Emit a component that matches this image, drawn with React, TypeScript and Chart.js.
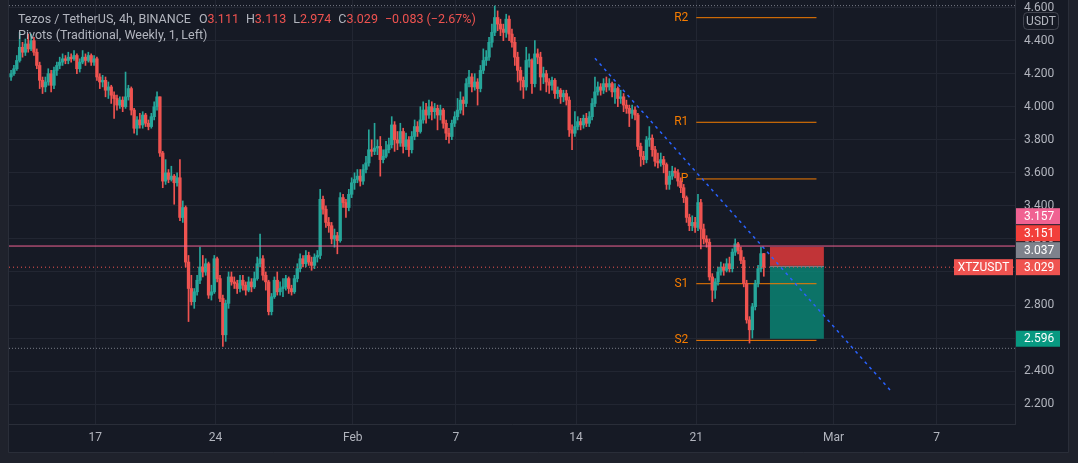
import React, { useEffect, useRef } from 'react';
import { Chart, registerables } from 'chart.js';

Chart.register(...registerables);

// ---- data (4h candles, Tezos / TetherUS) ----
const START_DAY = 12.1; // day-of-year style: Jan 12 = 12, Feb 1 = 32, Mar 1 = 60
const STEP_DAYS = 1 / 6;
const firstOpen = 4.18;

const closes = [
  4.20, 4.23, 4.28, 4.36, 4.33, 4.38, 4.35, 4.40, 4.33, 4.25,
  4.16, 4.12, 4.15, 4.20, 4.13, 4.22, 4.25, 4.27, 4.29, 4.28,
  4.30, 4.29, 4.31, 4.23, 4.27, 4.30, 4.28, 4.31, 4.27, 4.29,
  4.18, 4.15, 4.16, 4.10, 4.12, 4.07, 4.05, 4.01, 4.04, 4.00,
  4.06, 4.11, 3.98, 3.87, 3.92, 3.89, 3.95, 3.90, 3.88, 3.94,
  4.00, 4.06, 3.72, 3.55, 3.60, 3.56, 3.58, 3.54, 3.57, 3.33,
  3.39, 3.06, 2.90, 2.82, 2.88, 2.95, 3.03, 3.00, 3.05, 2.86,
  2.88, 3.08, 2.96, 2.84, 2.62, 2.81, 2.97, 2.94, 2.93, 2.90,
  2.95, 2.92, 2.89, 2.94, 2.91, 2.96, 3.05, 3.08, 2.98, 2.94,
  2.76, 2.85, 2.95, 2.88, 2.90, 2.91, 2.96, 2.90, 2.88, 2.96,
  3.02, 3.08, 3.05, 3.10, 3.06, 3.04, 3.09, 3.10, 3.44, 3.38,
  3.30, 3.28, 3.20, 3.22, 3.19, 3.45, 3.42, 3.39, 3.47, 3.54,
  3.56, 3.58, 3.55, 3.62, 3.66, 3.74, 3.73, 3.75, 3.76, 3.68,
  3.70, 3.74, 3.77, 3.89, 3.80, 3.78, 3.85, 3.76, 3.80, 3.74,
  3.82, 3.88, 3.85, 3.92, 3.98, 3.95, 4.00, 3.97, 3.99, 3.95,
  3.98, 3.90, 3.84, 3.82, 3.90, 3.94, 3.98, 4.04, 4.02, 4.14,
  4.18, 4.12, 4.15, 4.11, 4.22, 4.28, 4.30, 4.39, 4.45, 4.54,
  4.50, 4.47, 4.45, 4.53, 4.44, 4.39, 4.30, 4.22, 4.16, 4.12,
  4.28, 4.28, 4.14, 4.32, 4.30, 4.18, 4.20, 4.15, 4.13, 4.16,
  4.08, 4.10, 4.06, 4.08, 4.04, 3.86, 3.84, 3.88, 3.91, 3.89,
  3.93, 3.90, 3.94, 4.02, 4.09, 4.12, 4.10, 4.14, 4.12, 4.14,
  4.09, 4.11, 4.05, 4.06, 4.01, 3.99, 3.96, 3.98, 3.95, 3.76,
  3.70, 3.68, 3.80, 3.81, 3.74, 3.67, 3.66, 3.68, 3.65, 3.53,
  3.58, 3.61, 3.60, 3.55, 3.51, 3.45, 3.33, 3.28, 3.30, 3.27,
  3.42, 3.26, 3.20, 3.18, 2.97, 2.89, 2.94, 3.00, 3.03, 3.01,
  3.05, 3.02, 3.12, 3.17, 3.13, 3.07, 2.93, 2.71, 2.65, 2.79,
  2.93, 3.02, 3.111, 3.029,
];

const highs = [
  4.22, 4.25, 4.31, 4.45, 4.39, 4.41, 4.44, 4.44, 4.42, 4.35,
  4.27, 4.18, 4.18, 4.23, 4.22, 4.24, 4.27, 4.30, 4.32, 4.31,
  4.33, 4.32, 4.34, 4.32, 4.29, 4.34, 4.32, 4.33, 4.32, 4.31,
  4.30, 4.20, 4.19, 4.18, 4.15, 4.13, 4.09, 4.07, 4.06, 4.06,
  4.21, 4.13, 4.12, 3.99, 3.94, 3.96, 3.97, 3.96, 3.92, 3.96,
  4.03, 4.09, 4.06, 3.73, 3.68, 3.62, 3.64, 3.59, 3.60, 3.68,
  3.43, 3.40, 3.10, 2.98, 2.90, 2.98, 3.15, 3.10, 3.08, 3.06,
  2.92, 3.10, 3.09, 2.98, 2.86, 2.83, 3.00, 3.00, 2.97, 2.95,
  2.98, 2.98, 2.94, 2.97, 2.96, 3.00, 3.09, 3.23, 3.10, 3.00,
  2.95, 2.87, 2.97, 3.00, 2.94, 2.96, 2.98, 2.97, 2.92, 2.98,
  3.05, 3.11, 3.10, 3.13, 3.12, 3.09, 3.11, 3.13, 3.50, 3.46,
  3.40, 3.33, 3.30, 3.26, 3.24, 3.48, 3.47, 3.44, 3.50, 3.57,
  3.60, 3.62, 3.62, 3.65, 3.70, 3.86, 3.80, 3.90, 3.80, 3.82,
  3.74, 3.79, 3.81, 3.94, 3.91, 3.85, 3.90, 3.87, 3.84, 3.82,
  3.85, 3.92, 3.91, 4.00, 4.03, 4.02, 4.04, 4.03, 4.02, 4.01,
  4.01, 3.99, 3.92, 3.87, 3.92, 3.97, 4.05, 4.09, 4.06, 4.17,
  4.22, 4.20, 4.20, 4.17, 4.25, 4.35, 4.34, 4.42, 4.50, 4.61,
  4.58, 4.53, 4.50, 4.56, 4.55, 4.47, 4.42, 4.33, 4.24, 4.18,
  4.36, 4.32, 4.29, 4.40, 4.35, 4.33, 4.24, 4.22, 4.17, 4.18,
  4.17, 4.12, 4.11, 4.10, 4.10, 4.06, 3.89, 3.97, 3.94, 3.93,
  3.95, 3.96, 3.97, 4.05, 4.18, 4.15, 4.14, 4.17, 4.18, 4.17,
  4.15, 4.14, 4.12, 4.10, 4.08, 4.04, 4.01, 4.01, 4.00, 3.96,
  3.78, 3.73, 3.82, 3.88, 3.83, 3.76, 3.72, 3.72, 3.70, 3.66,
  3.61, 3.64, 3.63, 3.62, 3.57, 3.53, 3.46, 3.35, 3.34, 3.33,
  3.47, 3.44, 3.29, 3.22, 3.20, 2.99, 2.96, 3.03, 3.06, 3.05,
  3.08, 3.09, 3.14, 3.20, 3.18, 3.15, 3.09, 2.95, 2.73, 2.81,
  2.95, 3.04, 3.15, 3.113,
];

const lows = [
  4.16, 4.19, 4.22, 4.27, 4.30, 4.31, 4.33, 4.34, 4.31, 4.23,
  4.11, 4.08, 4.09, 4.13, 4.09, 4.11, 4.19, 4.23, 4.25, 4.26,
  4.26, 4.27, 4.28, 4.20, 4.21, 4.26, 4.25, 4.27, 4.25, 4.25,
  4.16, 4.11, 4.12, 4.06, 4.05, 4.02, 3.93, 3.98, 3.99, 3.97,
  3.99, 4.04, 3.95, 3.84, 3.83, 3.87, 3.87, 3.88, 3.86, 3.87,
  3.92, 3.98, 3.70, 3.51, 3.53, 3.54, 3.55, 3.41, 3.52, 3.31,
  3.30, 3.03, 2.70, 2.80, 2.78, 2.86, 2.93, 2.97, 2.98, 2.84,
  2.83, 2.87, 2.94, 2.82, 2.55, 2.58, 2.78, 2.92, 2.90, 2.87,
  2.88, 2.89, 2.86, 2.88, 2.88, 2.90, 2.95, 3.03, 2.95, 2.89,
  2.74, 2.74, 2.84, 2.86, 2.86, 2.85, 2.89, 2.87, 2.86, 2.87,
  2.94, 3.00, 3.03, 3.03, 3.04, 3.01, 3.02, 3.06, 3.08, 3.35,
  3.27, 3.24, 3.17, 3.15, 3.11, 3.18, 3.39, 3.33, 3.37, 3.45,
  3.50, 3.54, 3.52, 3.53, 3.60, 3.64, 3.70, 3.71, 3.71, 3.58,
  3.66, 3.69, 3.72, 3.75, 3.73, 3.74, 3.76, 3.72, 3.74, 3.70,
  3.72, 3.80, 3.82, 3.84, 3.90, 3.90, 3.93, 3.92, 3.93, 3.86,
  3.92, 3.87, 3.80, 3.78, 3.80, 3.88, 3.92, 3.96, 3.95, 4.00,
  4.12, 4.09, 4.10, 4.01, 4.09, 4.20, 4.25, 4.28, 4.36, 4.43,
  4.46, 4.43, 4.40, 4.42, 4.40, 4.36, 4.25, 4.15, 4.10, 4.05,
  4.10, 4.24, 4.08, 4.12, 4.26, 4.10, 4.14, 4.09, 4.08, 4.10,
  4.05, 4.05, 4.02, 4.03, 4.01, 3.82, 3.74, 3.82, 3.86, 3.86,
  3.87, 3.88, 3.88, 3.92, 4.00, 4.07, 4.07, 4.08, 4.09, 4.10,
  4.06, 4.02, 4.00, 4.02, 3.97, 3.96, 3.88, 3.93, 3.92, 3.74,
  3.64, 3.65, 3.66, 3.76, 3.70, 3.64, 3.63, 3.64, 3.60, 3.50,
  3.50, 3.56, 3.57, 3.52, 3.48, 3.42, 3.30, 3.25, 3.25, 3.24,
  3.25, 3.14, 3.17, 3.15, 2.95, 2.82, 2.84, 2.92, 2.98, 2.98,
  3.00, 3.00, 3.00, 3.10, 3.11, 3.05, 2.91, 2.69, 2.57, 2.60,
  2.77, 2.91, 3.00, 2.974,
];

const xTickDays = [17, 24, 32, 38, 45, 52, 60, 66];
const xTickLabels = ['17', '24', 'Feb', '7', '14', '21', 'Mar', '7'];
const priceTicks = [2.2, 2.4, 2.6, 2.8, 3.0, 3.2, 3.4, 3.6, 3.8, 4.0, 4.2, 4.4, 4.6];

const pivotNames = ['R2', 'R1', 'P', 'S1', 'S2'];
const pivotValues = [4.539, 3.906, 3.563, 2.929, 2.586];
const pivotSpan = [52, 59];

const trendStart = [46.1, 4.293];
const trendEnd = [63.28, 2.286];

const alertLevel = 3.157;
const lastPrice = 3.029;
const rangeHigh = 4.612;
const rangeLow = 2.538;

const positionSpan = [56.29, 59.43];
const positionStop = 3.151;
const positionEntry = 3.037;
const positionTarget = 2.596;

const axisLabelValues = [3.157, 3.151, 3.037, 3.029, 2.596];
const axisLabelColors = ['#f06292', '#f23f3a', '#7e828c', '#ef5350', '#089981'];

const X_MIN = 11.98;
const X_MAX = 70.56;
const Y_MIN = 2.08;
const Y_MAX = 4.646;

const UP = '#26a69a';
const DOWN = '#ef5350';
const FRAME = '#1f222c';
const PANEL = '#161a25';
const GRID = '#222632';
const BORDER = '#2a2e39';
const TEXT = '#b2b5be';
const PIVOT = '#f57c00';
const FONT = 'Roboto, "Noto Sans", sans-serif';

const overlayPlugin = {
  id: 'tvOverlay',
  beforeDraw(chart: any) {
    const { ctx, width, height } = chart;
    const xs = chart.scales.x;
    const ys = chart.scales.y;
    ctx.save();
    ctx.fillStyle = FRAME;
    ctx.fillRect(0, 0, width, height);
    ctx.fillStyle = PANEL;
    ctx.fillRect(xs.left, 0, ys.right - xs.left, xs.bottom);
    ctx.restore();
  },
  beforeDatasetsDraw(chart: any) {
    const { ctx } = chart;
    const xs = chart.scales.x;
    const ys = chart.scales.y;
    ctx.save();
    // position (short) tool boxes
    const x0 = xs.getPixelForValue(positionSpan[0]);
    const x1 = xs.getPixelForValue(positionSpan[1]);
    const yStop = ys.getPixelForValue(positionStop);
    const yEntry = ys.getPixelForValue(positionEntry);
    const yTarget = ys.getPixelForValue(positionTarget);
    ctx.fillStyle = 'rgba(242, 60, 60, 0.78)';
    ctx.fillRect(x0, yStop, x1 - x0, yEntry - yStop);
    ctx.fillStyle = 'rgba(8, 150, 129, 0.72)';
    ctx.fillRect(x0, yEntry, x1 - x0, yTarget - yEntry);
    ctx.strokeStyle = '#787b86';
    ctx.lineWidth = 1;
    ctx.beginPath();
    ctx.moveTo(x0, Math.round(yEntry) + 0.5);
    ctx.lineTo(x1, Math.round(yEntry) + 0.5);
    ctx.stroke();
    // pivot labels
    ctx.font = `12px ${FONT}`;
    ctx.fillStyle = PIVOT;
    ctx.textAlign = 'right';
    ctx.textBaseline = 'middle';
    const px = xs.getPixelForValue(pivotSpan[0]) - 8;
    pivotNames.forEach((n, i) => {
      ctx.fillText(n, px, ys.getPixelForValue(pivotValues[i]));
    });
    ctx.restore();
  },
  afterDraw(chart: any) {
    const { ctx } = chart;
    const xs = chart.scales.x;
    const ys = chart.scales.y;
    ctx.save();
    // price-axis labels stacked upward to avoid overlap
    const order = axisLabelValues.map((v, i) => i).sort((a, b) => axisLabelValues[a] - axisLabelValues[b]);
    const H = 17;
    let prev = Infinity;
    const centers: number[] = [];
    order.forEach((idx) => {
      let c = ys.getPixelForValue(axisLabelValues[idx]);
      if (c > prev - H) c = prev - H;
      centers[idx] = c;
      prev = c;
    });
    ctx.font = `12px ${FONT}`;
    ctx.textBaseline = 'middle';
    axisLabelValues.forEach((v, i) => {
      const c = centers[i];
      ctx.fillStyle = axisLabelColors[i];
      ctx.fillRect(ys.left + 1, c - 8, 44, 16);
      ctx.fillStyle = '#ffffff';
      ctx.textAlign = 'left';
      ctx.fillText(v.toFixed(3), ys.left + 9, c + 0.5);
    });
    // symbol label next to last price
    const cLast = centers[axisLabelValues.indexOf(lastPrice)];
    ctx.fillStyle = '#ef5350';
    ctx.fillRect(xs.right - 61, cLast - 8, 59, 16);
    ctx.fillStyle = '#ffffff';
    ctx.textAlign = 'center';
    ctx.fillText('XTZUSDT', xs.right - 31.5, cLast + 0.5);

    // currency box
    ctx.strokeStyle = '#434651';
    ctx.lineWidth = 1;
    ctx.beginPath();
    (ctx as any).roundRect(ys.left + 8.5, 12.5, 35, 17, 4);
    ctx.fillStyle = PANEL;
    ctx.fill();
    ctx.stroke();
    ctx.fillStyle = TEXT;
    ctx.textAlign = 'center';
    ctx.fillText('USDT', ys.left + 26, 21.5);

    // frame borders
    ctx.strokeStyle = BORDER;
    ctx.beginPath();
    ctx.moveTo(ys.right + 0.5, 0);
    ctx.lineTo(ys.right + 0.5, xs.bottom + 0.5);
    ctx.lineTo(xs.left - 0.5, xs.bottom + 0.5);
    ctx.lineTo(xs.left - 0.5, 0);
    ctx.stroke();

    // legend
    ctx.font = `12.5px ${FONT}`;
    ctx.textAlign = 'left';
    ctx.textBaseline = 'middle';
    const parts: [string, string, number][] = [
      ['Tezos / TetherUS, 4h, BINANCE', TEXT, 8],
      ['O', TEXT, 0], ['3.111', DOWN, 7],
      ['H', TEXT, 0], ['3.113', DOWN, 7],
      ['L', TEXT, 0], ['2.974', DOWN, 7],
      ['C', TEXT, 0], ['3.029', DOWN, 7],
      ['\u22120.083 (\u22122.67%)', DOWN, 0],
    ];
    let lx = 18;
    parts.forEach(([t, col, gap]) => {
      ctx.fillStyle = col;
      ctx.fillText(t, lx, 20);
      lx += ctx.measureText(t).width + gap;
    });
    ctx.fillStyle = TEXT;
    ctx.fillText('Pivots (Traditional, Weekly, 1, Left)', 18, 36);
    ctx.restore();
  },
};

export default function App() {
  const ref = useRef<HTMLCanvasElement>(null);

  useEffect(() => {
    document.body.style.margin = '0';
    const canvas = ref.current;
    if (!canvas) return;

    const candles = closes.map((c, i) => {
      const o = i === 0 ? firstOpen : closes[i - 1];
      return { t: START_DAY + i * STEP_DAYS, o, h: highs[i], l: lows[i], c };
    });
    const colors = candles.map((k) => (k.c >= k.o ? UP : DOWN));

    const hLine = (y: number, color: string, dash: number[], order: number, label: string) => ({
      type: 'line' as const,
      label,
      data: [{ x: X_MIN, y }, { x: X_MAX, y }],
      borderColor: color,
      borderWidth: 1,
      borderDash: dash,
      pointRadius: 0,
      order,
    });

    const pivotSets = pivotValues.map((v, i) => ({
      type: 'line' as const,
      label: pivotNames[i],
      data: [{ x: pivotSpan[0], y: v }, { x: pivotSpan[1], y: v }],
      borderColor: PIVOT,
      borderWidth: 1,
      pointRadius: 0,
      order: 2,
    }));

    const chart = new Chart(canvas, {
      type: 'bar',
      data: {
        datasets: [
          hLine(alertLevel, '#f06292', [], -3, 'alert'),
          {
            type: 'line',
            label: 'trend',
            data: [{ x: trendStart[0], y: trendStart[1] }, { x: trendEnd[0], y: trendEnd[1] }],
            borderColor: '#2962ff',
            borderWidth: 1.5,
            borderDash: [3, 4],
            pointRadius: 0,
            order: -2,
          },
          hLine(lastPrice, '#ef5350', [1, 3], -1, 'last'),
          {
            type: 'bar',
            label: 'bodies',
            data: candles.map((k) => ({ x: k.t, y: [k.o, k.c] })),
            backgroundColor: colors,
            borderWidth: 0,
            barThickness: 2.7,
            minBarLength: 1,
            grouped: false,
            order: 0,
          },
          {
            type: 'bar',
            label: 'wicks',
            data: candles.map((k) => ({ x: k.t, y: [k.l, k.h] })),
            backgroundColor: colors,
            borderWidth: 0,
            barThickness: 1,
            grouped: false,
            order: 1,
          },
          ...pivotSets,
          hLine(rangeHigh, '#787b86', [1, 2], 3, 'high'),
          hLine(rangeLow, '#787b86', [1, 2], 3, 'low'),
        ] as any,
      },
      options: {
        responsive: false,
        devicePixelRatio: 1,
        animation: false,
        events: [],
        layout: { padding: { left: 9, right: 10, top: 0, bottom: 11 } },
        plugins: { legend: { display: false }, tooltip: { enabled: false } },
        scales: {
          x: {
            type: 'linear',
            min: X_MIN,
            max: X_MAX,
            offset: false,
            afterBuildTicks: (s: any) => {
              s.ticks = xTickDays.map((v) => ({ value: v }));
            },
            afterFit: (s: any) => {
              s.height = 28;
              s.paddingLeft = 0;
              s.paddingRight = 0;
            },
            ticks: {
              autoSkip: false,
              maxRotation: 0,
              padding: 7,
              color: TEXT,
              font: { family: FONT, size: 12 },
              callback: (v: any) => {
                const i = xTickDays.indexOf(Number(v));
                return i >= 0 ? xTickLabels[i] : '';
              },
            },
            grid: { color: GRID, drawTicks: false, offset: false },
            border: { color: BORDER },
          },
          y: {
            type: 'linear',
            position: 'right',
            min: Y_MIN,
            max: Y_MAX,
            afterBuildTicks: (s: any) => {
              s.ticks = priceTicks.map((v) => ({ value: v }));
            },
            afterFit: (s: any) => {
              s.width = 53;
              s.paddingTop = 0;
              s.paddingBottom = 0;
            },
            ticks: {
              padding: 9,
              color: TEXT,
              font: { family: FONT, size: 12 },
              callback: (v: any) => Number(v).toFixed(3),
            },
            grid: { color: GRID, drawTicks: false },
            border: { color: BORDER },
          },
        },
      } as any,
      plugins: [overlayPlugin],
    });

    return () => chart.destroy();
  }, []);

  return (
    <div style={{ position: 'fixed', left: 0, top: 0, width: 1078, height: 463, background: FRAME }}>
      <canvas ref={ref} width={1078} height={463} style={{ display: 'block', width: 1078, height: 463 }} />
    </div>
  );
}
